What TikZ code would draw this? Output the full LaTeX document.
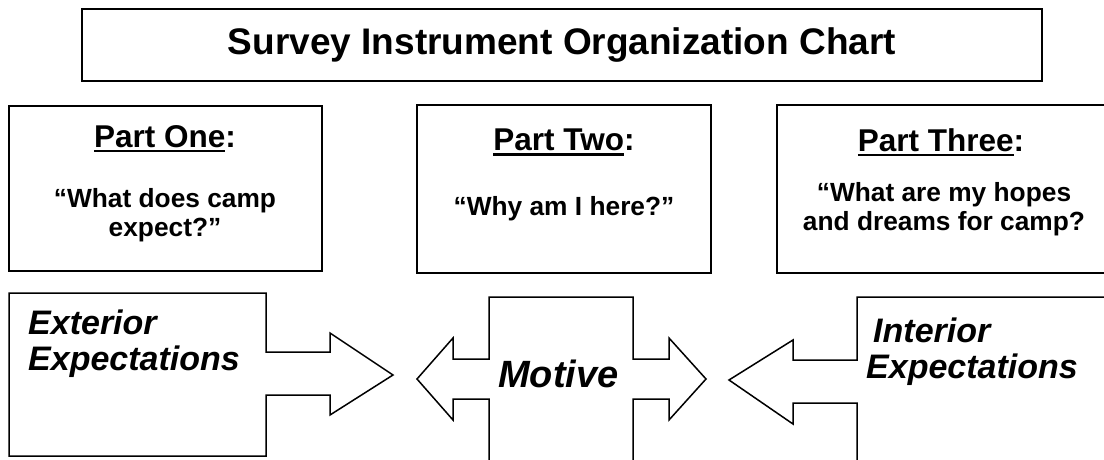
\documentclass[tikz,border=0pt]{standalone}
\usepackage{fontspec}
\setmainfont{Liberation Sans}
\newcommand\partul[1]{\setbox0\hbox{#1}\rlap{\rule[-5pt]{\wd0}{2.5pt}}\box0}
\begin{document}
\begin{tikzpicture}[x=1pt,y=-1pt,
  frame/.style={draw, line width=1.5pt, inner sep=0pt},
  outline/.style={draw, line width=1.5pt, line join=miter},
  titletext/.style={anchor=base, inner sep=0pt, font=\fontsize{37}{44}\selectfont\bfseries},
  parthead/.style={anchor=base, inner sep=0pt, font=\fontsize{31.5}{36}\selectfont\bfseries},
  question/.style={anchor=base, inner sep=0pt, align=center, font=\fontsize{26.3}{28.5}\selectfont\bfseries},
  arrowtext/.style={anchor=base west, inner sep=0pt, align=left, font=\fontsize{34}{35.5}\selectfont\bfseries\itshape}
]
\useasboundingbox (0,0) rectangle (1104,460);
\begin{scope}
\clip (0,0) rectangle (1104,460);
% title box
\node[frame, minimum width=960pt, minimum height=72pt] (titlebox) at (562,45) {};
% part boxes
\node[frame, minimum width=313pt, minimum height=165pt] (p1box) at (165.5,188.5) {};
\node[frame, minimum width=294pt, minimum height=168pt] (p2box) at (564,189) {};
\node[frame, minimum width=338pt, minimum height=168pt] (p3box) at (946,189) {};
% left callout arrow
\draw[outline] (9,293) -- (266,293) -- (266,352) -- (330,352) -- (330,333) -- (393,375)
  -- (330,415) -- (330,395) -- (266,395) -- (266,456) -- (9,456) -- cycle;
% middle double arrow
\draw[outline] (489,297) -- (633,297) -- (633,359) -- (669,359) -- (669,338) -- (706,379)
  -- (669,420) -- (669,399) -- (633,399) -- (633,475) -- (489,475) -- (489,399)
  -- (453,399) -- (453,420) -- (417,379) -- (453,338) -- (453,359) -- (489,359) -- cycle;
% right callout arrow
\draw[outline] (857,297) -- (1120,297) -- (1120,475) -- (857,475) -- (857,403) -- (793,403)
  -- (793,424) -- (729,380) -- (793,340) -- (793,360) -- (857,360) -- cycle;
\end{scope}
% texts (multi-line nodes are anchored at the baseline of their last line)
\node[titletext] (title) at (562,55) {Survey Instrument Organization Chart};
\node[parthead] (p1h) at (165,147) {\partul{Part One}:};
\node[question] (p1q) at (165,236) {“What does camp\\expect?”};
\node[parthead] (p2h) at (564,150.5) {\partul{Part Two}:};
\node[question] (p2q) at (564,215) {“Why am I here?”};
\node[parthead] (p3h) at (941,151) {\partul{Part Three}:};
\node[question] (p3q) at (944,230) {“What are my hopes\\and dreams for camp?};
\node[arrowtext] (ext) at (28,370) {Exterior\\Expectations};
\node[anchor=base, inner sep=0pt, font=\fontsize{38}{40}\selectfont\bfseries\itshape] (mot) at (558.5,387) {Motive};
\node[arrowtext] (int) at (866,378) {\hspace*{7pt}Interior\\Expectations};
\end{tikzpicture}
\end{document}
